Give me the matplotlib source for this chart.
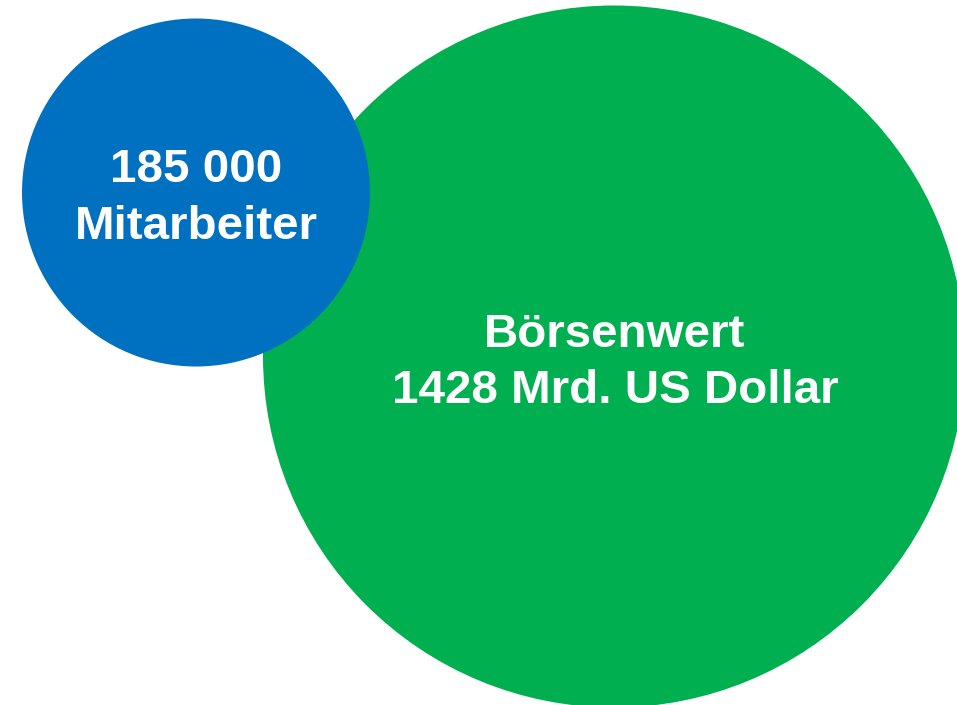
import matplotlib.pyplot as plt
from matplotlib.patches import Circle

# data
labels = ["Mitarbeiter", "Börsenwert"]
values = ["185 000", "1428 Mrd. US Dollar"]
colors = ["#0070C0", "#00B050"]

# layout (pixels, figure is 957 x 705)
W, H = 957, 705
centers = [(196, 192.5), (614, 356.5)]
radii = [174, 351]

fig = plt.figure(figsize=(W / 100, H / 100), dpi=100)
ax = fig.add_axes([0, 0, 1, 1])
ax.set_xlim(0, W)
ax.set_ylim(H, 0)
ax.set_aspect('equal')
ax.axis('off')

# green (big) circle below, blue on top
ax.add_patch(Circle(centers[1], radii[1], color=colors[1], zorder=1, lw=0))
ax.add_patch(Circle(centers[0], radii[0], color=colors[0], zorder=2, lw=0))

font = dict(color='white', fontweight='bold', family='Liberation Sans',
            fontsize=34.2, ha='center', va='baseline', zorder=3)

# blue: number on top, label below
ax.text(centers[0][0], 182, values[0], **font)
ax.text(centers[0][0], 239, labels[0], **font)

# green: label on top, number below
ax.text(615, 347, labels[1], **font)
ax.text(615, 403, values[1], **font)

fig.savefig('out.png', dpi=100)
